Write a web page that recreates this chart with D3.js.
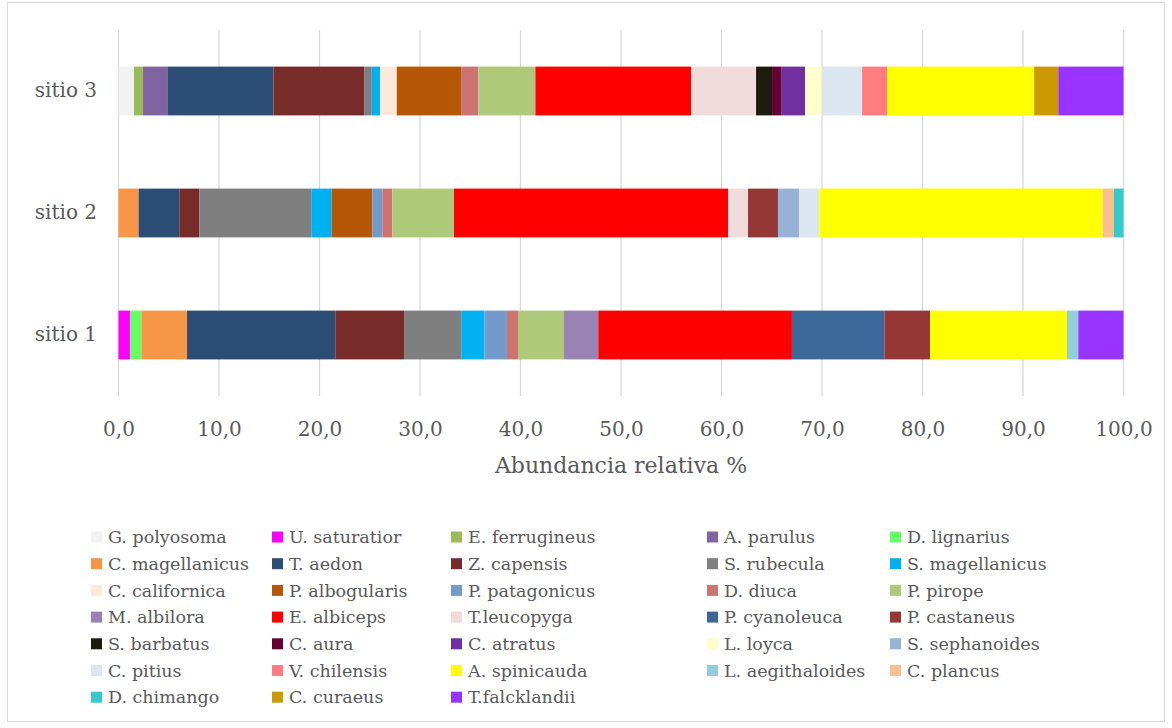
<!DOCTYPE html>
<html>
<head>
<meta charset="utf-8">
<script src="https://cdn.jsdelivr.net/npm/d3@7/dist/d3.min.js"></script>
<style>
  html, body { margin: 0; padding: 0; background: #fff; }
  svg { display: block; }
  text { font-family: "DejaVu Serif", "Liberation Serif", serif; fill: #595959; }
</style>
</head>
<body>
<svg id="chart" width="1172" height="728"></svg>
<script>
// ---- data ----
const sites = ["sitio 3", "sitio 2", "sitio 1"];
const species = [
  "G. polyosoma", "U. saturatior", "E. ferrugineus", "A. parulus", "D. lignarius",
  "C. magellanicus", "T. aedon", "Z. capensis", "S. rubecula", "S. magellanicus",
  "C. californica", "P. albogularis", "P. patagonicus", "D. diuca", "P. pirope",
  "M. albilora", "E. albiceps", "T.leucopyga", "P. cyanoleuca", "P. castaneus",
  "S. barbatus", "C. aura", "C. atratus", "L. loyca", "S. sephanoides",
  "C. pitius", "V. chilensis", "A. spinicauda", "L. aegithaloides", "C. plancus",
  "D. chimango", "C. curaeus", "T.falcklandii"
];
const speciesColors = [
  "#F2F2F2", "#FF00FF", "#9BBB59", "#8064A2", "#66FF66",
  "#F79646", "#2C4D75", "#772C2A", "#7F7F7F", "#00B0F0",
  "#FDE9D9", "#B65708", "#729ACA", "#CD7371", "#AFC97A",
  "#9983B5", "#FF0000", "#F2DCDB", "#3A6899", "#953735",
  "#1D1B10", "#660033", "#7030A0", "#FFFFCC", "#95B3D7",
  "#DCE6F1", "#FF7C80", "#FFFF00", "#92CDDC", "#FAC090",
  "#33CCCC", "#CC9900", "#9933FF"
];
// values in species order
const sitio1 = [0, 1.14, 0, 0, 1.13, 4.55, 14.75, 6.84, 5.70, 2.29, 0, 0, 2.26, 1.09, 4.58,
  3.41, 19.27, 0, 9.19, 4.55, 0, 0, 0, 0, 0, 0, 0, 13.63, 1.12, 0, 0, 0, 4.50];
const sitio2 = [0, 0, 0, 0, 0, 2.00, 4.05, 1.99, 11.14, 2.03, 0, 4.04, 1.00, 0.99, 6.14,
  0, 27.27, 1.99, 0, 2.98, 0, 0, 0, 0, 2.09, 2.02, 0, 28.18, 0, 1.14, 0.95, 0, 0];
const sitio3 = [1.54, 0, 0.90, 2.42, 0, 0, 10.55, 9.03, 0.76, 0.83, 1.66, 6.40, 0, 1.72, 5.67,
  0, 15.50, 6.46, 0, 0, 1.59, 0.90, 2.39, 1.66, 0, 4.01, 2.49, 14.63, 0, 0, 0, 2.40, 6.49];
const xTicks = [0, 10, 20, 30, 40, 50, 60, 70, 80, 90, 100];
const xTitle = "Abundancia relativa %";

// ---- build table ----
const siteValues = { "sitio 1": sitio1, "sitio 2": sitio2, "sitio 3": sitio3 };
const table = sites.map(s => {
  const row = { site: s };
  species.forEach((sp, i) => { row[sp] = siteValues[s][i]; });
  return row;
});
const stacked = d3.stack().keys(species)(table);

const svg = d3.select("#chart");
const FONT = '"DejaVu Serif", "Liberation Serif", serif';

// chart border
svg.append("rect")
  .attr("x", 7.5).attr("y", 2.5)
  .attr("width", 1157).attr("height", 719)
  .attr("fill", "#fff").attr("stroke", "#D9D9D9").attr("stroke-width", 1);

const x = d3.scaleLinear().domain([0, 100]).range([118.5, 1123.5]);
const y = d3.scaleBand().domain(sites).range([30, 396]).paddingInner(0.6).paddingOuter(0.3);

// gridlines
svg.append("g").selectAll("line").data(xTicks).join("line")
  .attr("x1", d => x(d)).attr("x2", d => x(d))
  .attr("y1", 30).attr("y2", 396)
  .attr("stroke", "#D9D9D9").attr("stroke-width", 1.3);

// bars
const colorOf = d3.scaleOrdinal().domain(species).range(speciesColors);
svg.append("g").selectAll("g").data(stacked).join("g")
  .attr("fill", d => colorOf(d.key))
  .selectAll("rect").data(d => d.filter(p => p[1] - p[0] > 0)).join("rect")
  .attr("x", d => x(d[0]))
  .attr("width", d => x(d[1]) - x(d[0]))
  .attr("y", d => y(d.data.site))
  .attr("height", y.bandwidth());

// x axis labels
const xAxis = d3.axisBottom(x).tickValues(xTicks)
  .tickFormat(d => d3.format(".1f")(d).replace(".", ","))
  .tickSize(0).tickPadding(0);
const gx = svg.append("g").attr("transform", "translate(0,420)").call(xAxis);
gx.select(".domain").remove();
gx.selectAll("text").attr("fill", "#595959").style("font-size", "20px")
  .style("font-family", FONT).attr("dy", "0.8em");

// y axis labels
const yAxis = d3.axisLeft(y).tickSize(0).tickPadding(0);
const gy = svg.append("g").attr("transform", "translate(97,0)").call(yAxis);
gy.select(".domain").remove();
gy.selectAll("text").attr("fill", "#595959").style("font-size", "20px")
  .style("font-family", FONT);

// x title
svg.append("text")
  .attr("x", 621).attr("y", 473)
  .attr("text-anchor", "middle")
  .style("font-size", "22px")
  .text(xTitle);

// legend
const colX = [91, 272, 451, 707, 890];
const rowY0 = 537, rowStep = 26.7;
const lg = svg.append("g").selectAll("g").data(species).join("g")
  .attr("transform", (d, i) => `translate(${colX[i % 5]},${rowY0 + Math.floor(i / 5) * rowStep})`);
lg.append("rect").attr("x", 0).attr("y", -5.5).attr("width", 11).attr("height", 11)
  .attr("fill", d => colorOf(d));
lg.append("text").attr("x", 17).attr("y", 0).attr("dy", "0.35em")
  .style("font-size", "17.5px").text(d => d);
</script>
</body>
</html>
